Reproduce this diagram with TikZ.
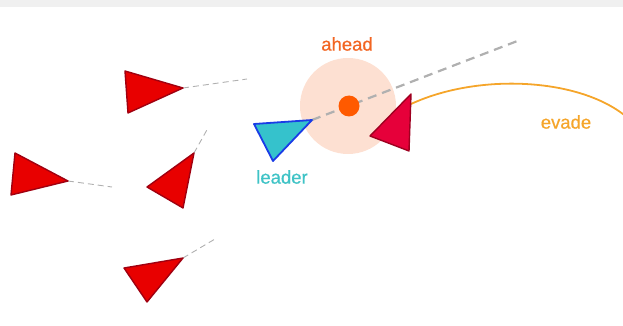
\documentclass[tikz,border=0pt]{standalone}
\usepackage{fontspec}
\setmainfont{Liberation Sans}
\newfontfamily\labelfont[FakeBold=0.6]{Liberation Sans}
\definecolor{boidred}{HTML}{E80000}
\definecolor{boidedge}{HTML}{A00010}
\definecolor{evadered}{HTML}{E6003A}
\definecolor{evadeedge}{HTML}{9E0020}
\definecolor{leadfill}{HTML}{35C2CC}
\definecolor{leadedge}{HTML}{1A3CE6}
\definecolor{leadtext}{HTML}{3FC3C6}
\definecolor{zone}{HTML}{FDE0D2}
\definecolor{aheadorange}{HTML}{FF5A00}
\definecolor{aheadtext}{HTML}{F26522}
\definecolor{evadeorange}{HTML}{F5A52A}
\definecolor{trailgrey}{HTML}{B0B0B0}
\definecolor{topband}{HTML}{F0F0F0}
\begin{document}
\begin{tikzpicture}[x=1pt, y=-1pt]

\tikzstyle{boid}   = [draw=boidedge, fill=boidred, line width=1.4pt, line join=round] % follower triangles
\tikzstyle{trail}  = [draw=trailgrey, line width=0.9pt, dash pattern=on 6pt off 4pt] % short heading lines
\tikzstyle{label}  = [font=\labelfont\fontsize{18.5}{20}\selectfont, inner sep=0pt]

% frame and top band
\useasboundingbox (0,0) rectangle (623,326);
\fill[topband] (0,0) rectangle (623,7);

% ahead zone
\node(zone)[circle, fill=zone, minimum size=96pt, inner sep=0pt] at (348,106){};
\node(aheadLbl)[label, text=aheadtext] at (347,44){ahead};

% leader heading line through the ahead point
\coordinate(leadTip) at (312,120);
\coordinate(leadEnd) at (520,40);
\draw[draw=trailgrey, line width=2.2pt, dash pattern=on 9pt off 6pt](leadTip)--(leadEnd);
\node(ahead)[circle, fill=aheadorange, minimum size=21pt, inner sep=0pt] at (349,106){};

% leader
\filldraw[draw=leadedge, fill=leadfill, line width=1.8pt, line join=round]
	(254,124)--(273,161)--(leadTip)--cycle;
\node(leaderLbl)[label, text=leadtext] at (282,177){leader};

% evading boid and its path
\coordinate(evTail) at (411,104);
\draw[draw=evadeorange, line width=1.8pt](evTail) .. controls (480,72) and (585,78) .. (630,120);
\filldraw[draw=evadeedge, fill=evadered, line width=1.4pt, line join=round]
	(370,136)--(411,94)--(409,151)--cycle;
\node(evadeLbl)[label, text=evadeorange] at (566,122){evade};

% followers with their headings
\coordinate(tip1) at (183,88);
\coordinate(end1) at (247,79);
\draw[trail](tip1)--(end1);
\filldraw[boid](125,71)--(128,113)--(tip1)--cycle;

\coordinate(tip2) at (68,181);
\coordinate(end2) at (112,187);
\draw[trail](tip2)--(end2);
\filldraw[boid](15,153)--(11,195)--(tip2)--cycle;

\coordinate(tip3) at (194,153);
\coordinate(end3) at (208,128);
\draw[trail](tip3)--(end3);
\filldraw[boid](147,187)--(183,208)--(tip3)--cycle;

\coordinate(tip4) at (183,258);
\coordinate(end4) at (215,239);
\draw[trail](tip4)--(end4);
\filldraw[boid](124,268)--(147,302)--(tip4)--cycle;

\end{tikzpicture}
\end{document}
